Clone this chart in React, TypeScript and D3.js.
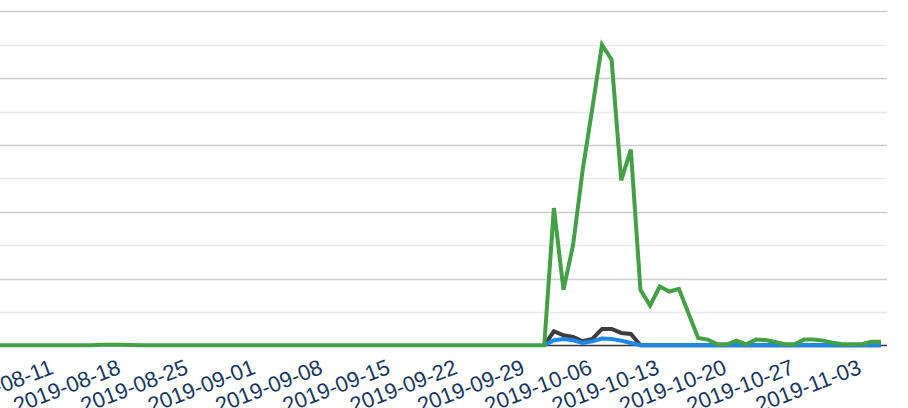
import React from "react";
import * as d3 from "d3";

// ---- data ----
const startDate = "2019-08-04";

// Aug 4 .. Sep 30 (58 days), Oct 1 .. Oct 31 (31), Nov 1 .. Nov 5 (5)
const greenAugSep: number[] = [
  0, 0, 0, 0, 0, 0, 0, 0, 0, 0, 0, 0, 0.15, 0.15,
  0.15, 0.1, 0, 0, 0, 0, 0, 0, 0, 0, 0, 0, 0, 0,
  0, 0, 0, 0, 0, 0, 0, 0, 0, 0, 0, 0, 0, 0, 0, 0, 0,
  0, 0, 0, 0, 0, 0, 0, 0, 0, 0, 0, 0, 0,
];
const greenOctNov: number[] = [
  0, 41.1, 16.6, 30.1, 52.6, 71.0, 90.0, 85.5, 49.4, 58.6, 16.6, 11.9, 17.6,
  16.1, 16.9, 9.5, 2.2, 1.7, 0.3, 0.3, 1.4, 0.3, 1.7, 1.6, 1.0, 0.3, 0.3,
  1.7, 1.7, 1.4, 0.8, 0.3, 0.3, 0.3, 1.1, 1.1,
];
const blackOctNov: number[] = [
  0, 4.2, 3.0, 2.5, 1.2, 1.9, 4.9, 4.9, 3.7, 3.4, 0, 0, 0, 0, 0, 0, 0, 0, 0,
  0, 0, 0, 0, 0, 0, 0, 0, 0, 0, 0, 0, 0, 0, 0, 0, 0,
];
const blueOctNov: number[] = [
  0, 1.5, 1.9, 1.5, 0.7, 1.2, 2.0, 1.9, 1.4, 0.7, 0, 0, 0, 0, 0, 0, 0, 0, 0,
  0, 0, 0, 0, 0, 0, 0, 0, 0, 0, 0, 0, 0, 0, 0, 0, 0,
];

const tickLabels: string[] = [
  "2019-08-11", "2019-08-18", "2019-08-25", "2019-09-01", "2019-09-08",
  "2019-09-15", "2019-09-22", "2019-09-29", "2019-10-06", "2019-10-13",
  "2019-10-20", "2019-10-27", "2019-11-03",
];
const yGrid: number[] = [10, 20, 30, 40, 50, 60, 70, 80, 90, 100];

const parse = d3.utcParse("%Y-%m-%d");

export default function App() {
  const W = 908;
  const H = 408;
  const plotRight = 887;

  const start = parse(startDate)!;
  const greenVals = [...greenAugSep, ...greenOctNov];
  const dates = d3.utcDay.range(start, d3.utcDay.offset(start, greenVals.length));
  const pad = greenAugSep.map(() => null as number | null);
  const blackVals = [...pad, ...blackOctNov];
  const blueVals = [...pad, ...blueOctNov];

  const x = d3
    .scaleUtc()
    .domain([parse("2019-08-18")!, parse("2019-11-03")!])
    .range([121, 861.7]);
  const y = d3.scaleLinear().domain([0, 100]).range([345.3, 11.3]);

  const mk = (vals: (number | null)[]) =>
    d3
      .line<number>()
      .defined((i) => vals[i] !== null && vals[i] !== undefined)
      .x((i) => x(dates[i]))
      .y((i) => y(vals[i] as number))(d3.range(vals.length)) || "";

  const series = [
    { vals: blackVals, color: "#3d3d3d" },
    { vals: blueVals, color: "#1e88e5" },
    { vals: greenVals, color: "#43a047" },
  ];

  const base = Math.round(y(0)) + 0.5;

  return (
    <svg
      width={W}
      height={H}
      style={{ position: "absolute", left: 0, top: 0, background: "#fff" }}
      fontFamily="'Liberation Sans', Arial, sans-serif"
    >
      <defs>
        <clipPath id="plot">
          <rect x={0} y={0} width={plotRight} height={H} />
        </clipPath>
      </defs>
      <rect x={0} y={0} width={W} height={H} fill="#fff" />
      {yGrid.map((v) => {
        const yy = Math.round(y(v)) + 0.5;
        return (
          <line
            key={v}
            x1={0}
            x2={plotRight}
            y1={yy}
            y2={yy}
            stroke={v % 20 === 0 ? "#cccccc" : "#ebebeb"}
            strokeWidth={1.3}
          />
        );
      })}
      <line x1={0} x2={plotRight} y1={base} y2={base} stroke="#333" strokeWidth={1.3} />
      <g clipPath="url(#plot)">
        {series.map((s, i) => (
          <path key={i} d={mk(s.vals)} fill="none" stroke={s.color} strokeWidth={4} />
        ))}
      </g>
      {tickLabels.map((t) => {
        const tx = x(parse(t)!) + 1;
        const ty = 373;
        return (
          <text
            key={t}
            x={0}
            y={0}
            transform={`translate(${tx},${ty}) rotate(-21)`}
            textAnchor="end"
            fontSize={22}
            fill="#1b365d"
          >
            {t}
          </text>
        );
      })}
    </svg>
  );
}
